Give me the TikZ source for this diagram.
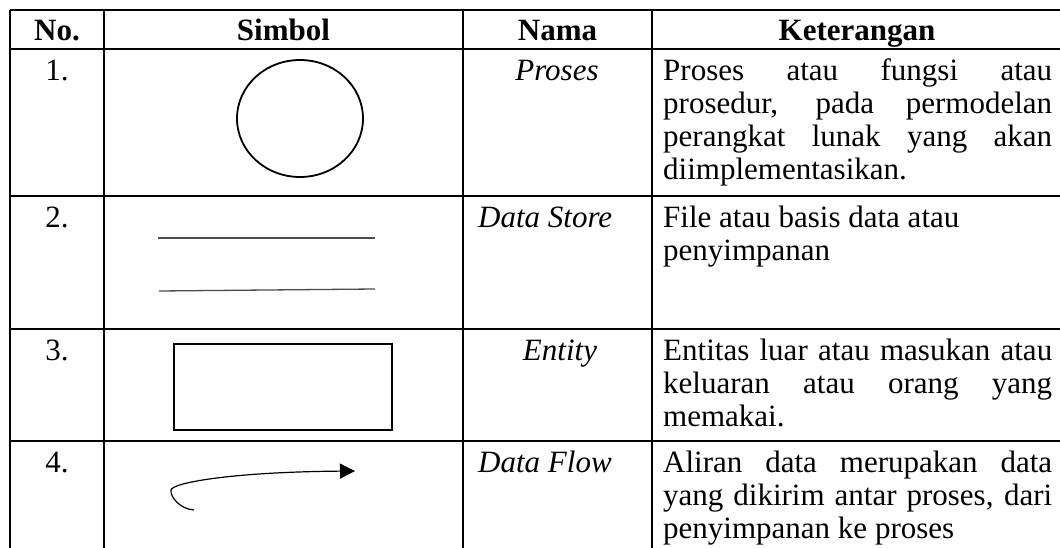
\documentclass[tikz,border=0pt]{standalone}
\usepackage{fontspec}
\setmainfont{Liberation Serif}
\usetikzlibrary{arrows.meta, positioning, calc}

\begin{document}
\begin{tikzpicture}[x=1pt, y=-1pt,
    grid/.style={draw=black, line width=2pt},
    headtxt/.style={anchor=base, inner sep=0pt, font=\fontsize{31}{32.8}\selectfont\bfseries},
    numtxt/.style={anchor=base, inner sep=0pt, font=\fontsize{31}{32.8}\selectfont},
    nametxt/.style={anchor=base, inner sep=0pt, font=\fontsize{31}{32.8}\selectfont\itshape},
    desctxt/.style={anchor=north west, inner sep=0pt, align=left, font=\fontsize{31}{32.8}\selectfont},
    symbol/.style={draw=black, line width=1.8pt},
    store/.style={draw=black!70, line width=1.3pt},
    flow/.style={draw=black, line width=1.2pt, -{Triangle[length=15pt, width=15pt]}}
]
\useasboundingbox (0,0) rectangle (1060,548);
\clip (0,0) rectangle (1060,548);

\draw[grid] (10,10) -- (1063,10);
\draw[grid] (10,49) -- (1063,49);
\draw[grid] (10,196) -- (1063,196);
\draw[grid] (10,329) -- (1063,329);
\draw[grid] (10,441) -- (1063,441);
\draw[grid] (10,10) -- (10,560);
\draw[grid] (104,10) -- (104,560);
\draw[grid] (463,10) -- (463,560);
\draw[grid] (652,10) -- (652,560);
\draw[grid] (1063,10) -- (1063,560);

\node[headtxt] (hno) at (57,40.5) {No.};
\node[headtxt] (hsimbol) at (283.5,40.5) {Simbol};
\node[headtxt] (hnama) at (557.5,40.5) {Nama};
\node[headtxt] (hket) at (857,40.5) {Keterangan};

\node[numtxt] (no1) at (57,80.5) {1.};
\node[numtxt] (no2) at (57,227.5) {2.};
\node[numtxt] (no3) at (57,360.5) {3.};
\node[numtxt] (no4) at (57,472.5) {4.};

\node[nametxt] (nama1) at (557,80.5) {Proses};
\node[nametxt, anchor=base west] (nama2) at (478,227.5) {Data Store};
\node[nametxt] (nama3) at (560,360.5) {Entity};
\node[nametxt, anchor=base west] (nama4) at (478,472.5) {Data Flow};

\node[desctxt] (ket1) at (663,57.54) {\makebox[389pt][s]{\strut Proses atau fungsi atau}\\
  \makebox[389pt][s]{prosedur, pada permodelan}\\
  \makebox[389pt][s]{perangkat lunak yang akan}\\
  diimplementasikan.};
\node[desctxt] (ket2) at (663,204.54) {\strut File atau basis data atau\\
  penyimpanan};
\node[desctxt] (ket3) at (663,337.54) {\makebox[389pt][s]{\strut Entitas luar atau masukan atau}\\
  \makebox[389pt][s]{keluaran atau orang yang}\\
  memakai.};
\node[desctxt] (ket4) at (663,449.54) {\makebox[389pt][s]{\strut Aliran data merupakan data}\\
  \makebox[389pt][s]{yang dikirim antar proses, dari}\\
  penyimpanan ke proses};

\draw[symbol] (300,118.5) ellipse [x radius=63pt, y radius=58.5pt];

\draw[store] (158,238) -- (375,238);
\draw[store] (159,291) -- (375,289);

\draw[symbol, line width=2pt] (174,344) rectangle (392,430);

\coordinate (flowstart) at (194,510);
\coordinate (flowturn) at (171,490);
\coordinate (flowend) at (355,471);
\draw[flow] (flowstart) .. controls (180,509) and (170,497) .. (flowturn)
  .. controls (172,483) and (230,472) .. (flowend);
\end{tikzpicture}
\end{document}
